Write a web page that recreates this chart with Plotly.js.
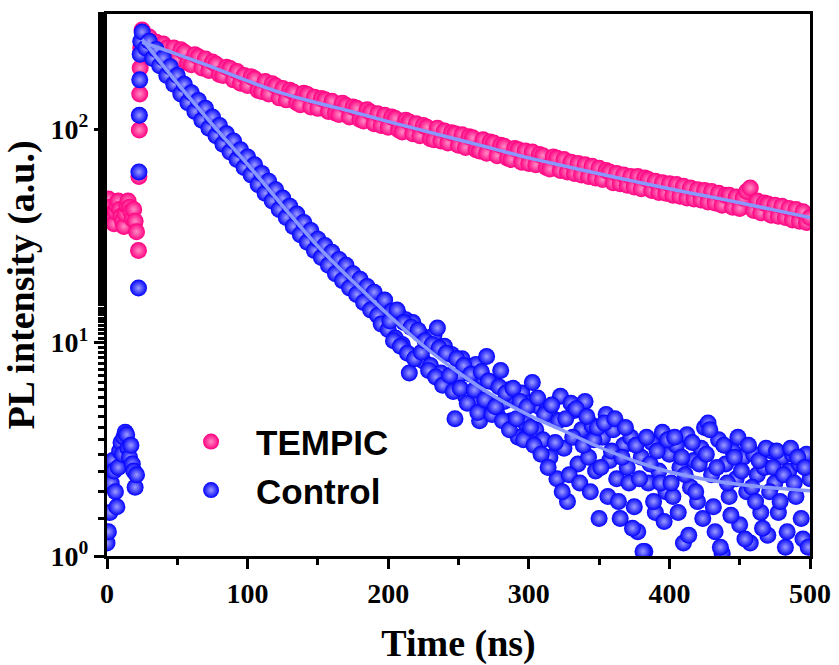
<!DOCTYPE html>
<html>
<head>
<meta charset="utf-8">
<script src="https://cdn.plot.ly/plotly-3.0.1.min.js"></script>
<style>html,body{margin:0;padding:0;background:#fff;}#chart{width:839px;height:665px;}</style>
</head>
<body>
<div id="chart"></div>
<script>
// ---- data ----
const seriesNames = ['TEMPIC', 'Control'];

// before the pulse (ns)
const preTime = [0,1,2,3,4,5,6,7,8,9,10,11,12,13,14,15,16,17,18,19,20,21];
const tempicPre = [45,47,43,40,38,36,41,44,46,42,39,37,35,40,44,46,43,41,38,42,37,33];
const controlPre = [1.15,1.3,1.6,2.2,2.8,2.5,2.0,1.7,2.6,3.1,3.4,3.0,3.6,3.8,3.7,3.2,2.9,3.3,2.7,2.5,2.1,2.4];

// rising edge (ns)
const riseTime = [22.4,22.7,23.0,23.3,23.6,24.0];
const tempicRise = [27,60,99,146,193,240];
const controlRise = [18,63,116,170,224,258];

// decay (ns)
const decayTime = [
 25,27.5,30,32.5,35,37.5,40,42.5,45,47.5,
 50,52.5,55,57.5,60,62.5,65,67.5,70,72.5,
 75,77.5,80,82.5,85,87.5,90,92.5,95,97.5,
 100,102.5,105,107.5,110,112.5,115,117.5,120,122.5,
 125,127.5,130,132.5,135,137.5,140,142.5,145,147.5,
 150,152.5,155,157.5,160,162.5,165,167.5,170,172.5,
 175,177.5,180,182.5,185,187.5,190,192.5,195,197.5,
 200,202.5,205,207.5,210,212.5,215,217.5,220,222.5,
 225,227.5,230,232.5,235,237.5,240,242.5,245,247.5,
 250,252.5,255,257.5,260,262.5,265,267.5,270,272.5,
 275,277.5,280,282.5,285,287.5,290,292.5,295,297.5,
 300,302.5,305,307.5,310,312.5,315,317.5,320,322.5,
 325,327.5,330,332.5,335,337.5,340,342.5,345,347.5,
 350,352.5,355,357.5,360,362.5,365,367.5,370,372.5,
 375,377.5,380,382.5,385,387.5,390,392.5,395,397.5,
 400,402.5,405,407.5,410,412.5,415,417.5,420,422.5,
 425,427.5,430,432.5,435,437.5,440,442.5,445,447.5,
 450,452.5,455,457.5,460,462.5,465,467.5,470,472.5,
 475,477.5,480,482.5,485,487.5,490,492.5,495,497.5,
 500];

const tempicDecay = [
 291,262,270,238,255,228,250,239,222,240,
 212,235,229,204,200,223,218,193,213,188,
 206,201,180,178,195,192,170,186,164,178,
 160,176,172,152,150,167,146,163,159,140,
 155,137,152,149,133,130,147,145,127,141,
 125,139,137,121,135,119,117,132,129,114,
 127,125,111,109,123,120,106,118,104,116,
 102,114,112,99,97,110,108,95,106,93,
 104,102,90,89,101,88,98,86,96,95,
 84,94,82,92,91,80,79,89,77,87,
 86,75,84,83,73,72,81,80,70,79,
 69,78,68,76,75,66,65,74,73,64,
 72,63,70,62,69,61,68,60,67,59,
 65.5,58,64,63,56,62,55.5,61,54.5,60,
 53.5,60,52.5,59,58,51.5,57,50.5,56,50,
 55.5,49,55,48.5,54,47.5,53,47,52,46.5,
 51.5,45.5,51,45,50,44,49,49,43,48,
 42.5,47.5,51,53,41.5,46,40.5,45,44.5,39.5,
 44,39,43.5,38.5,42.5,37.5,42,37,41,36.5,
 38.5];

const controlDecay = [
 285,240,258,214,236,198,215,178,196,162,
 178,146,162,133,148,121,136,110,125,101,
 114,93,104,85,95,78,88,72,80,66,
 74,61,68,55,62,50,57,46,52,42,
 47.5,38.5,43.5,35,40,32,36.5,29.5,33.5,27,
 30.5,25,28.5,23,26.5,21,24.5,19.5,23,18,
 21,16.8,19.8,15.4,18.3,14.2,17.2,13.4,12.2,15.8,
 11.5,14,10.5,13.5,9.8,12.8,7.2,12.4,8.6,11,
 8.2,10.5,7.8,10.8,11.7,7.2,9.6,6.5,8.8,4.4,
 7.0,8.4,5.6,7.6,5.3,7.9,4.3,6.8,8.6,5.2,
 6.5,4.6,7.4,5.3,6.0,4.3,5.5,3.6,5.8,4.2,
 5.2,6.5,3.9,5.0,3.5,4.8,2.9,4.4,2.3,5.6,
 3.2,1.8,5.2,4.8,2.7,3.9,5.3,2.9,4.1,2.5,
 1.5,3.6,4.6,2.8,3.9,2.3,1.5,3.3,2.6,3.6,
 1.7,1.3,2.9,1.05,2.2,3.4,1.6,2.5,3.8,2.0,
 3.0,1.9,3.3,2.6,1.15,3.7,2.1,2.8,1.8,3.2,
 4.0,4.2,2.4,1.3,3.5,1.03,2.7,1.9,3.1,2.3,
 1.4,2.9,2.0,1.15,3.0,2.4,1.6,2.6,1.25,3.1,
 2.2,1.6,2.9,1.1,2.5,3.0,1.9,2.7,1.2,3.0,
 2.3];

// extra Control samples in the noisy tail (between the samples above)
const tailTime = [
 201.25,203.75,206.25,208.75,211.25,213.75,216.25,218.75,221.25,223.75,
 226.25,228.75,231.25,233.75,236.25,238.75,241.25,243.75,246.25,248.75,
 251.25,253.75,256.25,258.75,261.25,263.75,266.25,268.75,271.25,273.75,
 276.25,278.75,281.25,283.75,286.25,288.75,291.25,293.75,296.25,298.75,
 301.25,303.75,306.25,308.75,311.25,313.75,316.25,318.75,321.25,323.75,
 326.25,328.75,331.25,333.75,336.25,338.75,341.25,343.75,346.25,348.75,
 351.25,353.75,356.25,358.75,361.25,363.75,366.25,368.75,371.25,373.75,
 376.25,378.75,381.25,383.75,386.25,388.75,391.25,393.75,396.25,398.75,
 401.25,403.75,406.25,408.75,411.25,413.75,416.25,418.75,421.25,423.75,
 426.25,428.75,431.25,433.75,436.25,438.75,441.25,443.75,446.25,448.75,
 451.25,453.75,456.25,458.75,461.25,463.75,466.25,468.75,471.25,473.75,
 476.25,478.75,481.25,483.75,486.25,488.75,491.25,493.75,496.25,498.75];
const controlTail = [
 12.6,10.2,14.2,9.6,12.4,8.9,11.8,8.4,11.4,9.0,
 10.2,7.4,9.8,6.9,9.4,6.3,8.9,7.0,5.9,8.4,
 6.1,7.8,5.2,7.1,6.0,4.7,7.3,5.4,6.6,4.6,
 5.0,6.2,4.3,5.8,3.9,6.1,4.4,5.3,3.5,5.0,
 4.0,3.3,5.5,3.0,4.6,2.6,5.1,3.4,4.3,2.0,
 4.4,2.4,3.6,4.9,2.2,3.3,4.5,2.0,3.5,4.0,
 2.6,4.2,1.9,3.1,4.4,1.8,2.9,4.0,2.2,1.35,
 3.3,2.3,1.05,3.6,2.7,1.8,3.1,2.2,1.45,3.5,
 2.2,3.6,1.6,2.9,2.4,1.25,3.4,2.0,2.7,1.5,
 3.0,3.9,1.7,2.6,1.1,3.3,2.2,1.55,2.9,3.6,
 2.5,1.2,3.3,2.1,1.8,2.8,1.35,3.2,2.0,2.6,
 3.1,1.8,2.4,1.3,3.2,2.2,2.9,1.5,2.6,1.1];

// fitted curves
const fitTime = [25,50,75,100,125,150,175,200,225,250,275,300,325,350,375,400,425,450,475,500];
const tempicFit = [255,224,195,168,147,132.4,120.2,108.4,98.3,89.1,80.8,73.3,67.2,61.7,56.9,52.5,48.7,45.2,41.7,38.5];
const controlFit = [263,164,105,68.4,43.6,28.2,19.3,13.5,9.66,7.24,5.62,4.57,3.85,3.24,2.79,2.48,2.29,2.16,2.08,2.02];

// axis ticks
const xTicks = [0,100,200,300,400,500];
const xTickText = ['0','100','200','300','400','500'];
const yTicks = [1,10,100];
const yTickText = ['10<sup>0</sup>','10<sup>1</sup>','10<sup>2</sup>'];

// ---- styles ----
const pink = '#ff0080';
const blue = '#0000ff';
const fitColor = 'rgb(137,152,255)';
const serif = '"Times New Roman", "Liberation Serif", serif';
const sans = 'Arial, "Liberation Sans", sans-serif';

const traces = [
  {
    x: preTime.concat(riseTime, decayTime),
    y: tempicPre.concat(tempicRise, tempicDecay),
    name: seriesNames[0], type: 'scatter', mode: 'markers',
    marker: {color: pink, size: 17, line: {width: 0}, gradient: {type: 'radial', color: '#ff8cc6'}}
  },
  {
    x: preTime.concat(riseTime, decayTime, tailTime),
    y: controlPre.concat(controlRise, controlDecay, controlTail),
    name: seriesNames[1], type: 'scatter', mode: 'markers',
    marker: {color: blue, size: 17, line: {width: 0}, gradient: {type: 'radial', color: '#9c9cff'}}
  },
  {
    x: fitTime, y: tempicFit, type: 'scatter', mode: 'lines', showlegend: false,
    line: {color: fitColor, width: 3.5, shape: 'spline', smoothing: 1}
  },
  {
    x: fitTime, y: controlFit, type: 'scatter', mode: 'lines', showlegend: false,
    line: {color: fitColor, width: 3.5, shape: 'spline', smoothing: 1}
  }
];

const layout = {
  width: 839, height: 665,
  margin: {l: 107, r: 29, t: 14, b: 109},
  paper_bgcolor: '#fff', plot_bgcolor: '#fff',
  showlegend: true,
  legend: {
    x: 0.084, y: 0.265, xanchor: 'left', yanchor: 'top',
    bgcolor: 'rgba(0,0,0,0)', borderwidth: 0,
    font: {family: sans, size: 35, color: '#000', weight: 'bold'},
    itemwidth: 80, tracegroupgap: 0
  },
  xaxis: {
    range: [0, 500], showgrid: false, zeroline: false,
    showline: true, linewidth: 3, linecolor: '#000', mirror: true,
    ticks: 'outside', ticklen: 10, tickwidth: 3, tickcolor: '#000',
    tickvals: xTicks, ticktext: xTickText,
    minor: {ticks: 'outside', ticklen: 6, tickwidth: 3, tickcolor: '#000', dtick: 50, showgrid: false},
    tickfont: {family: serif, size: 28, color: '#000', weight: 'bold'},
    title: {text: 'Time (ns)', font: {family: serif, size: 38, color: '#000', weight: 'bold'}, standoff: 24}
  },
  yaxis: {
    type: 'log', range: [0, 2.539], showgrid: false, zeroline: false,
    showline: true, linewidth: 3, linecolor: '#000', mirror: true,
    ticks: 'outside', ticklen: 10, tickwidth: 3, tickcolor: '#000',
    tickvals: yTicks, ticktext: yTickText,
    minor: {ticks: 'outside', ticklen: 6, tickwidth: 3, tickcolor: '#000', showgrid: false},
    tickfont: {family: serif, size: 28, color: '#000', weight: 'bold'},
    title: {text: 'PL intensity (a.u.)', font: {family: serif, size: 38, color: '#000', weight: 'bold'}, standoff: 10}
  }
};

Plotly.newPlot('chart', traces, layout, {displayModeBar: false, staticPlot: true});
</script>
</body>
</html>
